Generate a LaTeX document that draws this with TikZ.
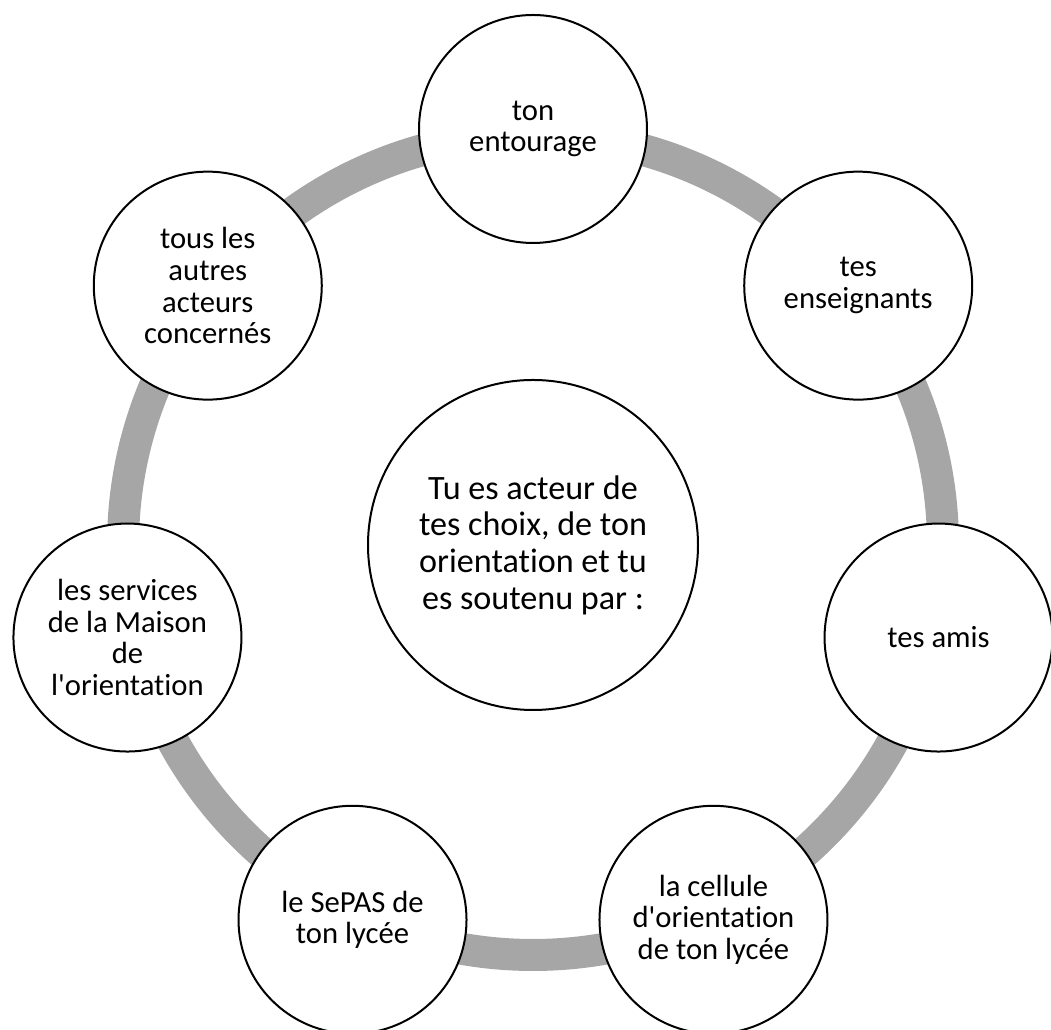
\documentclass[tikz,border=0pt]{standalone}
\usepackage{fontspec}
\setmainfont[Ligatures={TeXOff,NoCommon}]{Carlito}
\usepackage{xcolor}
\usepackage{tikz}
\definecolor{ringgray}{HTML}{A6A6A6}
\def\petal#1#2#3{\node[petal] (#1) at ([shift={(#2:416)}]centre) {#3}}
\tikzstyle{ring}=[draw=ringgray,line width=24pt]
\tikzstyle{petal}=[circle,draw=black,line width=1.5pt,fill=white,minimum size=171pt,inner sep=0pt,align=center,font=\fontsize{23}{23.8}\selectfont]
\tikzstyle{hub}=[petal,minimum size=247.5pt,font=\fontsize{25.6}{27.5}\selectfont]

\begin{document}
\begin{tikzpicture}[x=0.75pt,y=0.75pt]
    \useasboundingbox (0,0) rectangle (1051,1030);
    \coordinate (centre) at (533,485);
    \path[ring] (centre) circle[radius=410];
    \node[hub] (acteur) at (centre) {Tu es acteur de\\tes choix, de ton\\orientation et tu\\es soutenu par :};
    \petal{entourage}{90}{ton\\entourage};
    \petal{enseignants}{38.571}{tes\\enseignants};
    \petal{amis}{-12.857}{tes amis};
    \petal{cellule}{-64.286}{la cellule\\d'orientation\\de ton lycée};
    \petal{sepas}{-115.714}{le SePAS de\\ton lycée};
    \petal{maison}{-167.143}{les services\\de la Maison\\de\\l'orientation};
    \petal{autres}{141.429}{tous les\\autres\\acteurs\\concernés};
  \end{tikzpicture}
\end{document}
